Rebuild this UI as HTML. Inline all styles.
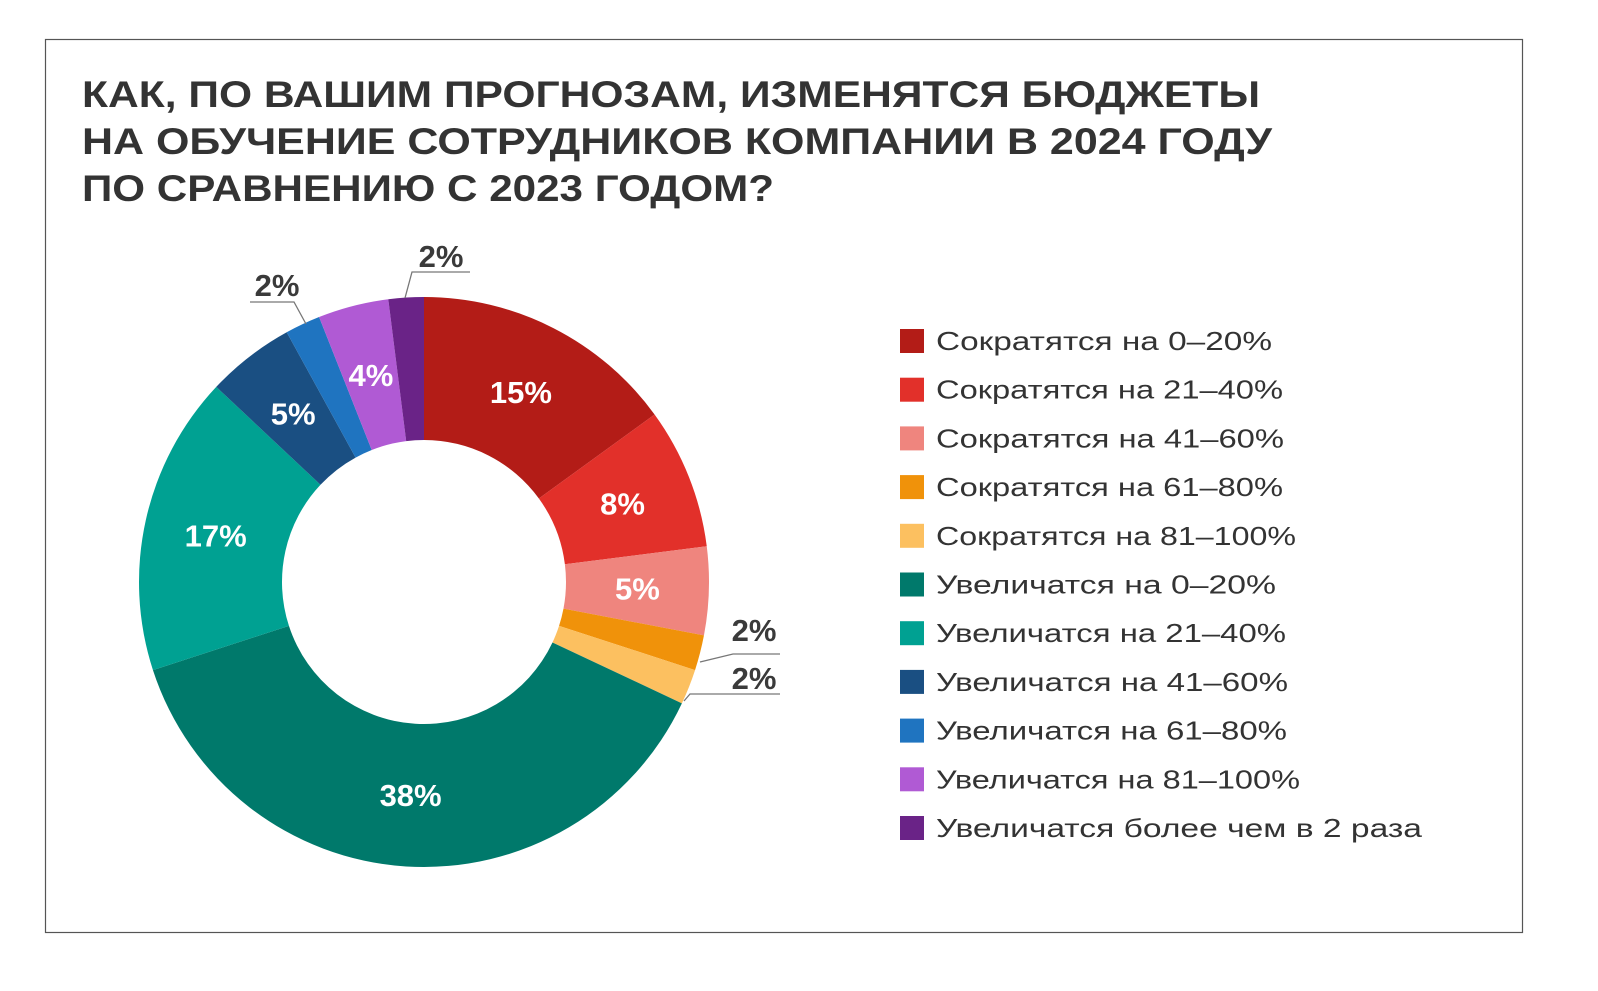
<!DOCTYPE html>
<html><head><meta charset="utf-8"><style>
body{margin:0;background:#fff;}
svg{display:block;font-family:"Liberation Sans",sans-serif;}
</style></head><body>
<svg width="1598" height="991" viewBox="0 0 1598 991">
<rect x="45.5" y="39.5" width="1477" height="893" fill="#fff" stroke="#555" stroke-width="1.2"/>
<g font-weight="bold" font-size="37" fill="#333">
<text x="82" y="107" textLength="1178" lengthAdjust="spacingAndGlyphs">КАК, ПО ВАШИМ ПРОГНОЗАМ, ИЗМЕНЯТСЯ БЮДЖЕТЫ</text>
<text x="82" y="154" textLength="1190" lengthAdjust="spacingAndGlyphs">НА ОБУЧЕНИЕ СОТРУДНИКОВ КОМПАНИИ В 2024 ГОДУ</text>
<text x="82" y="201" textLength="692" lengthAdjust="spacingAndGlyphs">ПО СРАВНЕНИЮ С 2023 ГОДОМ?</text>
</g>
<g id="donut"></g>
<g id="legend"></g>
<g stroke="#777" stroke-width="1.3" fill="none">
<polyline points="700,662 733,654 780,654"/>
<polyline points="684,701 690,694 780,694"/>
<polyline points="306,324 294,302 250,302"/>
<polyline points="405,298 412,272 470,272"/>
</g>
</svg>
<script>
const categories=["Сократятся на 0–20%","Сократятся на 21–40%","Сократятся на 41–60%","Сократятся на 61–80%","Сократятся на 81–100%","Увеличатся на 0–20%","Увеличатся на 21–40%","Увеличатся на 41–60%","Увеличатся на 61–80%","Увеличатся на 81–100%","Увеличатся более чем в 2 раза"];
const values=[15,8,5,2,2,38,17,5,2,4,2];
const valueLabels=["15%","8%","5%","2%","2%","38%","17%","5%","2%","4%","2%"];
const colors=["#b31c17","#e2302a","#ef857e","#f0920a","#fcc060","#00796b","#00a192","#1a4f82","#1f74c0","#b05ad4","#6a2387"];
const legendWidths=[336,347,348,347,360,340,350,352,351,364,486];
const NS="http://www.w3.org/2000/svg";
const cx=424,cy=582,R=285,r=142;
const total=values.reduce((a,b)=>a+b,0);
const donut=document.getElementById('donut');
function pt(a,rad){return [cx+rad*Math.sin(a),cy-rad*Math.cos(a)];}
let acc=0;
const outside={3:[754,641],4:[754,689],8:[277,296],10:[441,267]};
values.forEach((v,i)=>{
  const a0=acc/total*2*Math.PI; acc+=v; const a1=acc/total*2*Math.PI;
  const [x0,y0]=pt(a0,R),[x1,y1]=pt(a1,R),[x2,y2]=pt(a1,r),[x3,y3]=pt(a0,r);
  const lg=(a1-a0)>Math.PI?1:0;
  const p=document.createElementNS(NS,'path');
  p.setAttribute('d',`M${x0},${y0}A${R},${R} 0 ${lg} 1 ${x1},${y1}L${x2},${y2}A${r},${r} 0 ${lg} 0 ${x3},${y3}Z`);
  p.setAttribute('fill',colors[i]);
  
  
  donut.appendChild(p);
  const t=document.createElementNS(NS,'text');
  let tx,ty,fill;
  if(outside[i]){[tx,ty]=outside[i];fill='#3a3a3a';}
  else{const [mx,my]=pt((a0+a1)/2,(R+r)/2);tx=mx;ty=my+11;fill='#fff';}
  t.setAttribute('x',tx);t.setAttribute('y',ty);
  t.setAttribute('text-anchor','middle');t.setAttribute('font-weight','bold');
  t.setAttribute('font-size','31');t.setAttribute('fill',fill);
  t.textContent=valueLabels[i];
  
  
  donut.appendChild(t);
});
const legend=document.getElementById('legend');
categories.forEach((c,i)=>{
  const y=341+i*48.7;
  const g=document.createElementNS(NS,'g');
  
  
  const s=document.createElementNS(NS,'rect');
  s.setAttribute('x',900);s.setAttribute('y',y-12);s.setAttribute('width',24);s.setAttribute('height',24);
  s.setAttribute('fill',colors[i]);
  g.appendChild(s);
  const t=document.createElementNS(NS,'text');
  t.setAttribute('x',936);t.setAttribute('y',y+9);t.setAttribute('font-size','26');t.setAttribute('fill','#333');
  t.setAttribute('textLength',legendWidths[i]);t.setAttribute('lengthAdjust','spacingAndGlyphs');
  t.textContent=c;
  g.appendChild(t);
  legend.appendChild(g);
});
</script>
</body></html>
